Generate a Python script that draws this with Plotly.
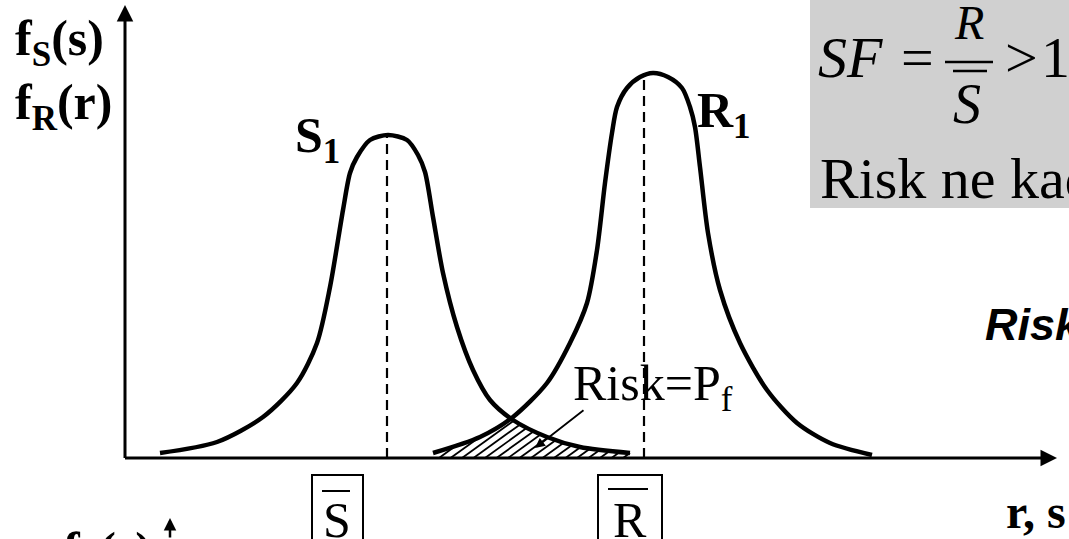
import numpy as np
import plotly.graph_objects as go

# ---- data (x in px along r,s axis; height above the axis) ----
S_x = [160, 217, 263, 297, 317, 330, 343, 350, 357, 370, 388, 407, 418, 425, 433, 443, 457, 473, 490, 513, 547, 580, 630]
S_y = [5, 16, 41, 75, 115, 171, 248, 285, 301, 318, 323, 318, 303, 286, 241, 185, 131, 88, 58, 38, 21, 11, 5]
R_x = [433, 480, 513, 547, 570, 587, 597, 605, 612, 617, 627, 640, 653, 668, 682, 690, 695, 700, 708, 720, 740, 767, 797, 830, 872]
R_y = [5, 21, 41, 75, 115, 155, 208, 275, 325, 351, 370, 381, 385, 381, 370, 351, 331, 291, 225, 168, 115, 68, 35, 15, 3]
S_mean = 387
R_mean = 644
S_peak = 321
R_peak = 383
overlap = [433, 630]

W, H = 1069, 539
BASE = 458  # pixel row of the horizontal axis


def Y(py):
    return BASE - py


SERIF = "Liberation Serif"
SANS = "Liberation Sans"

fig = go.Figure()

# hatched overlap (risk) region: diagonal strokes clipped under min(S, R)
xs = np.linspace(overlap[0], overlap[1], 400)
top = np.minimum(np.interp(xs, S_x, S_y), np.interp(xs, R_x, R_y))
hx, hy = [], []
slope = 0.72
for c in np.arange(overlap[0] + 6, overlap[1], 11.5):
    t = np.linspace(0, 80, 800)
    px = c + t
    ok = px <= overlap[1]
    ceil = np.interp(px, xs, top, right=0)
    inside = (slope * t <= ceil) & ok
    if not inside[0]:
        continue
    k = np.argmin(inside) if not inside.all() else len(t) - 1
    hx += [c, c + t[k], None]
    hy += [0, slope * t[k], None]
fig.add_trace(go.Scatter(x=hx, y=hy, mode="lines", line=dict(color="black", width=1.8),
                         showlegend=False, hoverinfo="skip"))

# mean dashed lines
fig.add_trace(go.Scatter(x=[S_mean, S_mean], y=[0, S_peak], mode="lines",
                         line=dict(color="black", width=2.2, dash="10px,6px"), showlegend=False))
fig.add_trace(go.Scatter(x=[R_mean, R_mean], y=[0, R_peak], mode="lines",
                         line=dict(color="black", width=2.2, dash="10px,6px"), showlegend=False))

# density curves
for xx, yy in [(S_x, S_y), (R_x, R_y)]:
    fig.add_trace(go.Scatter(x=xx, y=yy, mode="lines",
                             line=dict(color="black", width=4.5, shape="spline", smoothing=0.8),
                             showlegend=False, hoverinfo="skip"))

shapes = [
    # grey formula box
    dict(type="rect", xref="x", yref="y", x0=810, x1=1080, y0=Y(208), y1=Y(-5),
         fillcolor="#d0d0d0", line=dict(width=0), layer="below"),
    # fraction bars
    dict(type="line", xref="x", yref="y", x0=945, x1=993, y0=Y(62), y1=Y(62), line=dict(color="black", width=2.5)),
    dict(type="line", xref="x", yref="y", x0=953, x1=987, y0=Y(71), y1=Y(71), line=dict(color="black", width=2.5)),
    # boxed S-bar and R-bar
    dict(type="rect", xref="x", yref="y", x0=312, x1=363, y0=Y(545), y1=Y(475), line=dict(color="black", width=2)),
    dict(type="rect", xref="x", yref="y", x0=598, x1=662, y0=Y(545), y1=Y(475), line=dict(color="black", width=2)),
    dict(type="line", xref="x", yref="y", x0=322, x1=350, y0=Y(491), y1=Y(491), line=dict(color="black", width=2)),
    dict(type="line", xref="x", yref="y", x0=608, x1=648, y0=Y(489), y1=Y(489), line=dict(color="black", width=2)),
]

ann = []


def arrow(x0, y0, x1, y1, width, size):
    ann.append(dict(x=x1, y=y1, ax=x0, ay=y0, xref="x", yref="y", axref="x", ayref="y", text="",
                    showarrow=True, arrowhead=2, arrowwidth=width, arrowsize=size,
                    arrowcolor="black", standoff=0))


arrow(125, -1.5, 125, Y(5), 3, 1.1)
arrow(123.5, 0, 1057, 0, 3, 1.1)
arrow(585, Y(409), 535, Y(448), 1.8, 1.1)
arrow(170, Y(539), 170, Y(518), 2.5, 1.0)


def txt(t, x, py, size, family=SERIF, xanchor="left", color="black"):
    ann.append(dict(x=x, y=Y(py), xref="x", yref="y", text=t, showarrow=False, xanchor=xanchor,
                    yanchor="middle", font=dict(family=family, size=size, color=color)))


txt("<b>f<sub>S</sub>(s)</b>", 13, 42, 50)
txt("<b>f<sub>R</sub>(r)</b>", 13, 106, 50)
txt("<b>S<sub>1</sub></b>", 293, 139, 50)
txt("<b>R<sub>1</sub></b>", 695, 114, 50)
txt("Risk=P<sub>f</sub>", 571, 387, 50)
txt("<i>SF</i>", 816, 57, 58)
txt("=", 917, 57, 58, xanchor="center")
txt("<i>R</i>", 969, 22, 48, xanchor="center")
txt("<i>S</i>", 967, 104, 56, xanchor="center")
txt("&gt;", 1021, 57, 58, xanchor="center")
txt("1", 1055, 57, 58, xanchor="center")
txt("Risk ne kadar?", 818, 178, 58)
txt("<b><i>Risk</i></b>", 983, 324, 45, family=SANS)
txt("<b>r, s</b>", 1004, 511, 48)
txt("S", 337, 520, 50, xanchor="center")
txt("R", 630, 520, 50, xanchor="center")
ann.append(dict(x=61, y=1 - 554 / H, xref="x", yref="paper", text="<b>f<sub>S</sub>(s)</b>", showarrow=False,
                xanchor="left", yanchor="middle", font=dict(family=SERIF, size=50, color="black")))

fig.update_layout(
    width=W, height=H, margin=dict(l=0, r=0, t=0, b=0),
    paper_bgcolor="white", plot_bgcolor="white",
    xaxis=dict(range=[0, W], visible=False, fixedrange=True),
    yaxis=dict(range=[BASE - H, BASE], visible=False, fixedrange=True),
    shapes=shapes, annotations=ann, showlegend=False,
)

fig.write_html("out.html", config={"displayModeBar": False},
               post_script="document.body.style.margin='0';document.body.style.overflow='hidden';")
